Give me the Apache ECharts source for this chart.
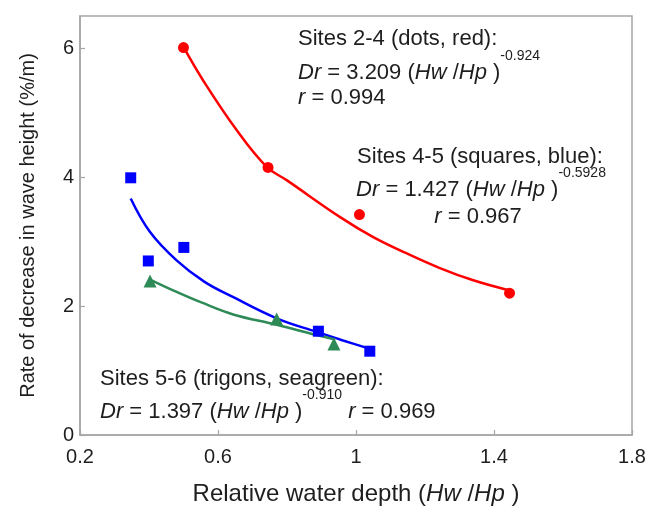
<!DOCTYPE html>
<html>
<head>
<meta charset="utf-8">
<script src="https://cdn.jsdelivr.net/npm/echarts@6/dist/echarts.min.js"></script>
<style>html,body{margin:0;padding:0;background:#fff}#c{width:650px;height:513px}</style>
</head>
<body>
<div id="c"></div>
<script>
// ---- data ----
const xTicks = [0.2, 0.6, 1.0, 1.4, 1.8];
const yTicks = [0, 2, 4, 6];

// Sites 2-4 (dots, red)
const redX = [0.50, 0.745, 1.01, 1.445];
const redY = [6.01, 4.15, 3.42, 2.20];
const redCurveX = [0.50, 0.557, 0.654, 0.741, 0.80, 0.954, 1.05, 1.146, 1.243, 1.34, 1.44];
const redCurveY = [6.02, 5.50, 4.73, 4.16, 3.95, 3.38, 3.07, 2.82, 2.59, 2.40, 2.25];

// Sites 4-5 (squares, blue)
const blueX = [0.347, 0.398, 0.501, 0.891, 1.04];
const blueY = [3.99, 2.70, 2.91, 1.61, 1.30];
const blueCurveX = [0.347, 0.403, 0.48, 0.56, 0.64, 0.77, 0.886, 0.96, 1.05];
const blueCurveY = [3.67, 3.15, 2.71, 2.38, 2.15, 1.81, 1.60, 1.47, 1.32];

// Sites 5-6 (trigons, seagreen)
const greenX = [0.403, 0.77, 0.936];
const greenY = [2.39, 1.80, 1.41];
const greenCurveX = [0.40, 0.48, 0.55, 0.644, 0.77, 0.886, 0.94];
const greenCurveY = [2.42, 2.22, 2.06, 1.87, 1.71, 1.55, 1.48];

const zip = (a, b) => a.map((v, i) => [v, b[i]]);

const FONT = 'Liberation Sans, Arial, Helvetica, sans-serif';
const TXT = '#1e1e1e';
const AX = '#a6a6a6';

const rich = {
  n: {fontSize: 22, fontFamily: FONT, fill: TXT, lineHeight: 25, verticalAlign: 'bottom'},
  i: {fontSize: 22, fontFamily: FONT, fontStyle: 'italic', fill: TXT, lineHeight: 25, verticalAlign: 'bottom'},
  s: {fontSize: 14, fontFamily: FONT, fill: TXT, lineHeight: 15, padding: [0, 0, 20, 0], verticalAlign: 'bottom'}
};

function txt(x, y, text, align) {
  return {
    type: 'text', z: 100,
    style: {x: x, y: y, text: text, rich: rich, textAlign: align || 'left', textVerticalAlign: 'middle',
            fontSize: 22, fontFamily: FONT, fill: TXT}
  };
}

const chart = echarts.init(document.getElementById('c'), null, {renderer: 'canvas'});
chart.setOption({
  animation: false,
  backgroundColor: '#fff',
  grid: {left: 80, top: 16, width: 552, height: 419, show: true, borderColor: AX, borderWidth: 1.5},
  xAxis: {
    type: 'value', min: xTicks[0], max: xTicks[xTicks.length - 1], interval: 0.4,
    axisLine: {lineStyle: {color: AX, width: 1.5}},
    axisTick: {inside: true, length: 5, lineStyle: {color: AX, width: 1.2}},
    splitLine: {show: false},
    axisLabel: {margin: 12, fontSize: 20, fontFamily: FONT, color: TXT,
      formatter: v => String(Math.round(v * 10) / 10)},
    name: '{n|Relative water depth (}{i|Hw}{n| /}{i|Hp}{n| )}',
    nameLocation: 'middle', nameGap: 47,
    nameTextStyle: {rich: {
      n: {fontSize: 24, fontFamily: FONT, color: TXT},
      i: {fontSize: 24, fontFamily: FONT, fontStyle: 'italic', color: TXT}
    }}
  },
  yAxis: {
    type: 'value', min: 0, max: 6.5, interval: 2,
    axisLine: {lineStyle: {color: AX, width: 1.5}},
    axisTick: {inside: true, length: 5, lineStyle: {color: AX, width: 1.2}},
    splitLine: {show: false},
    axisLabel: {margin: 6, fontSize: 20, fontFamily: FONT, color: TXT, showMaxLabel: false,
      padding: [8, 0, 0, 0],
      formatter: v => (yTicks.indexOf(v) >= 0 ? String(v) : '')},
    name: 'Rate of decrease in wave height (%/m)',
    nameLocation: 'middle', nameGap: 42,
    nameTextStyle: {fontSize: 20, fontFamily: FONT, color: TXT}
  },
  series: [
    {type: 'line', data: zip(redCurveX, redCurveY), smooth: 0.4, showSymbol: false, symbol: 'none',
     lineStyle: {color: '#ff0000', width: 2.5}, z: 2},
    {type: 'line', data: zip(blueCurveX, blueCurveY), smooth: 0.4, showSymbol: false, symbol: 'none',
     lineStyle: {color: '#0000ff', width: 2.5}, z: 2},
    {type: 'line', data: zip(greenCurveX, greenCurveY), smooth: 0.4, showSymbol: false, symbol: 'none',
     lineStyle: {color: '#2e8b57', width: 2.5}, z: 2},
    {type: 'scatter', data: zip(redX, redY), symbol: 'circle', symbolSize: 11,
     itemStyle: {color: '#ff0000', opacity: 1}, z: 3},
    {type: 'scatter', data: zip(blueX, blueY), symbol: 'rect', symbolSize: 11,
     itemStyle: {color: '#0000ff', opacity: 1}, z: 3},
    {type: 'scatter', data: zip(greenX, greenY), symbol: 'triangle', symbolSize: 13,
     itemStyle: {color: '#2e8b57', opacity: 1}, z: 3}
  ],
  graphic: [
    txt(298, 37, '{n|Sites 2-4 (dots, red):}'),
    txt(298, 71, '{i|Dr}{n| = 3.209 (}{i|Hw}{n| /}{i|Hp}{n| )}{s|-0.924}'),
    txt(298, 96, '{i|r}{n| = 0.994}'),
    txt(480, 155, '{n|Sites 4-5 (squares, blue):}', 'center'),
    txt(481, 188, '{i|Dr}{n| = 1.427 (}{i|Hw}{n| /}{i|Hp}{n| )}{s|-0.5928}', 'center'),
    txt(478, 215, '{i|r}{n| = 0.967}', 'center'),
    txt(100, 377, '{n|Sites 5-6 (trigons, seagreen):}'),
    txt(100, 410, '{i|Dr}{n| = 1.397 (}{i|Hw}{n| /}{i|Hp}{n| )}{s|-0.910}{n| }{i|r}{n| = 0.969}')
  ]
});
</script>
</body>
</html>
